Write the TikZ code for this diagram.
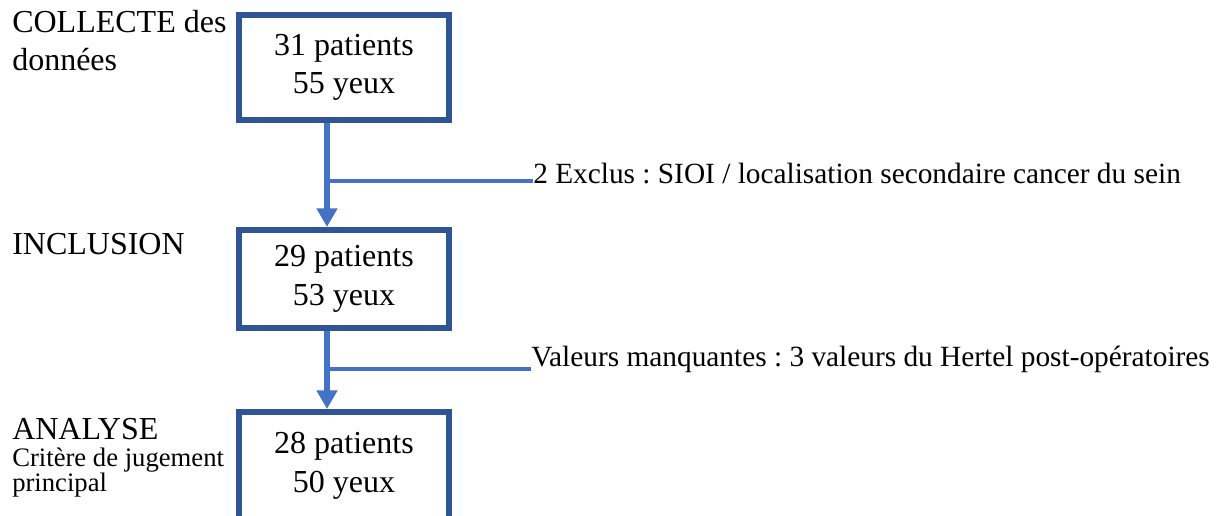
\documentclass[tikz,border=0pt]{standalone}
\usepackage{fontspec}
\setmainfont{Liberation Serif}
\usetikzlibrary{arrows.meta}
\definecolor{boxblue}{HTML}{2F5597}
\definecolor{linkblue}{HTML}{4472C4}
\frenchspacing

\begin{document}
\begin{tikzpicture}[x=0.75pt,y=-0.75pt,
  stagebox/.style={draw=boxblue, line width=4.5pt, fill=white,
    minimum width=157.5pt, align=center, inner sep=0pt,
    font=\fontsize{24}{29}\selectfont},
  stagelabel/.style={anchor=base west, inner sep=0pt, align=left,
    font=\fontsize{24}{28.5}\selectfont},
  sublabel/.style={anchor=base west, inner sep=0pt, align=left,
    font=\fontsize{20}{19}\selectfont},
  sidenote/.style={anchor=base west, inner sep=0pt,
    font=\fontsize{22}{26}\selectfont},
  flow/.style={draw=linkblue, line width=4.1pt,
    -{Triangle[width=15pt,length=14pt]}},
  branch/.style={draw=linkblue, line width=2.3pt}]

\path[use as bounding box] (0,0) rectangle (1222,516);
\clip (0,0) rectangle (1222,516);

% stage boxes (the last one runs past the lower edge)
\node[stagebox, minimum height=78.75pt] (b1) at (344,67.5) {31 patients\\55 yeux};
\node[stagebox, minimum height=73.5pt] (b2) at (344,279) {29 patients\\53 yeux};
\node[stagebox, minimum height=81pt] (b3) at (344,466) {28 patients\\50 yeux};

% stage names on the left (base anchor = last line's baseline)
\node[stagelabel] (s1) at (12,71) {COLLECTE des\\données};
\node[stagelabel] (s2) at (12,255) {INCLUSION};
\node[stagelabel] (s3) at (12,440) {ANALYSE};
\node[sublabel] (s3b) at (12,492) {Critère de jugement\\principal};

% main flow
\coordinate (ax) at (327,0);
\draw[flow] (b1.south -| ax) -- (b2.north -| ax);
\draw[flow] (b2.south -| ax) -- (b3.north -| ax);

% side notes with their branches
\node[sidenote] (n1) at (533,184) {2 Exclus : SIOI / localisation secondaire cancer du sein};
\node[sidenote] (n2) at (531,367) {Valeurs manquantes : 3 valeurs du Hertel post-opératoires};
\coordinate (j1) at (327,181);
\coordinate (j2) at (327,369);
\draw[branch] (j1) -- (j1 -| n1.west);
\draw[branch] (j2) -- (j2 -| n2.west);
\end{tikzpicture}
\end{document}
